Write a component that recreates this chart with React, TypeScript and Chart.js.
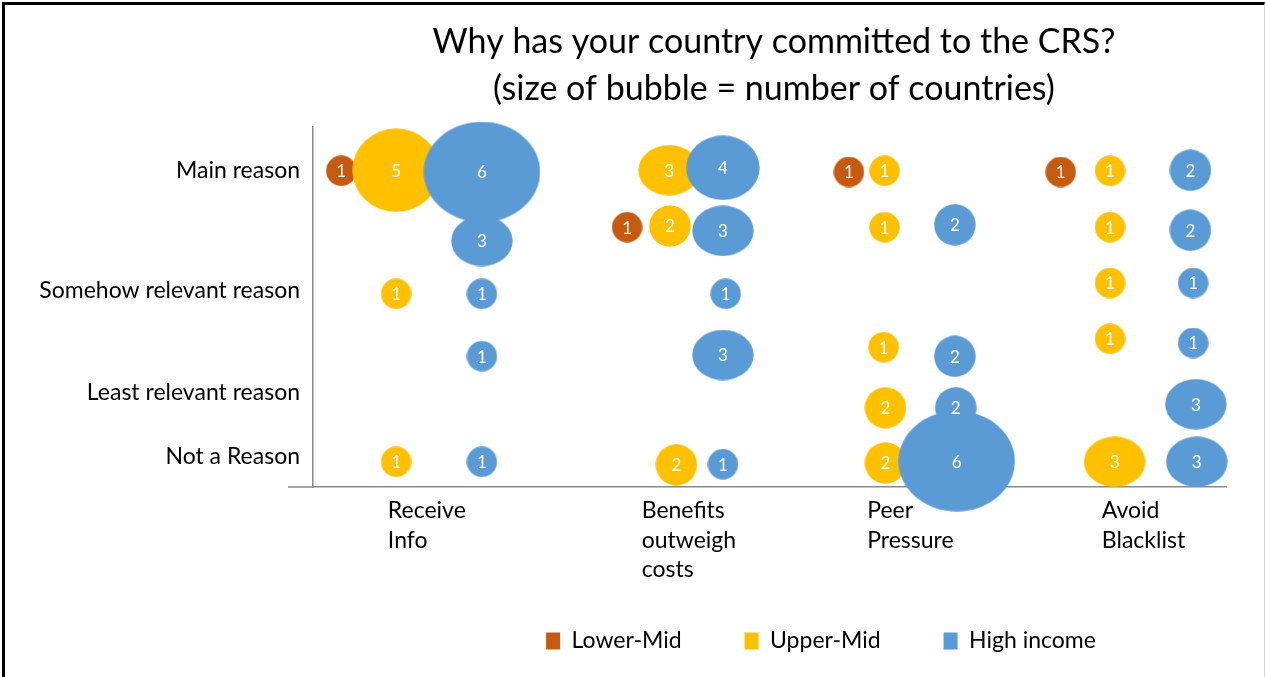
import React, { useEffect, useRef } from "react";
import { Chart, registerables } from "chart.js";

Chart.register(...registerables);

// ---------- data ----------
const seriesNames = ["Lower-Mid", "Upper-Mid", "High income"];

const xCategoryLabels = [
  ["Receive", "Info"],
  ["Benefits", "outweigh", "costs"],
  ["Peer", "Pressure"],
  ["Avoid", "Blacklist"],
];
const xCategoryPositions = [0.82, 3.6, 6.07, 8.64];

const yReasonLabels = ["Not a Reason", "Least relevant reason", "Somehow relevant reason", "Main reason"];
const yReasonPositions = [0.5, 1.57, 3.28, 5.27];

// Lower-Mid bubbles
const lowerMidX = [0.31, 3.44, 5.87, 8.19];
const lowerMidY = [5.27, 4.33, 5.25, 5.25];
const lowerMidCount = [1, 1, 1, 1];

// Upper-Mid bubbles
const upperMidX = [0.91, 0.91, 0.91, 3.9, 3.91, 3.98, 6.26, 6.26, 6.25, 6.27, 6.27, 8.73, 8.73, 8.73, 8.73, 8.78];
const upperMidY = [5.28, 3.22, 0.42, 5.28, 4.35, 0.37, 5.27, 4.33, 2.33, 1.32, 0.4, 5.27, 4.33, 3.4, 2.47, 0.42];
const upperMidCount = [5, 1, 1, 3, 2, 2, 1, 1, 1, 2, 2, 1, 1, 1, 1, 3];

// High income bubbles
const highX = [1.85, 1.85, 1.85, 1.85, 1.85, 4.49, 4.49, 4.52, 4.49, 4.49, 7.03, 7.03, 7.04, 7.05, 9.61, 9.61, 9.64, 9.64, 9.67, 9.68];
const highY = [5.25, 4.1, 3.22, 2.18, 0.42, 5.32, 4.27, 3.22, 2.2, 0.38, 4.37, 2.18, 1.32, 0.43, 5.28, 4.28, 3.4, 2.4, 1.38, 0.42];
const highCount = [6, 3, 1, 1, 1, 4, 3, 1, 3, 1, 2, 2, 2, 6, 2, 2, 1, 1, 3, 3];

// ---------- styles ----------
const seriesColors = ["#C55A11", "#FFC000", "#5B9BD5"];
// bubble (ellipse) size in px for each count value
const bubbleWidthByCount = [0, 31, 42, 62, 74, 88, 117];
const bubbleHeightByCount = [0, 31, 42, 51, 65, 84, 101];
const FONT = "Lato, 'Open Sans', sans-serif";
const AXIS_COLOR = "#8a8a8a";
const LEGEND_PADDING = 63;
const LEGEND_FONT = 23;

const toPoints = (xs: number[], ys: number[], counts: number[]) =>
  xs.map((x, i) => ({ x, y: ys[i], v: counts[i] }));

const ellipseCache = new Map<string, HTMLCanvasElement>();
function ellipseImage(color: string, count: number): HTMLCanvasElement {
  const key = color + "|" + count;
  const hit = ellipseCache.get(key);
  if (hit) return hit;
  const w = bubbleWidthByCount[count];
  const h = bubbleHeightByCount[count];
  const c = document.createElement("canvas");
  c.width = w;
  c.height = h;
  const g = c.getContext("2d") as CanvasRenderingContext2D;
  g.fillStyle = color;
  g.beginPath();
  g.ellipse(w / 2, h / 2, w / 2 - 0.3, h / 2 - 0.3, 0, 0, Math.PI * 2);
  g.fill();
  ellipseCache.set(key, c);
  return c;
}

const bubbleLabels = {
  id: "bubbleLabels",
  afterDatasetDraw(chart: any, args: any) {
    const ctx = chart.ctx;
    const ds = chart.data.datasets[args.index];
    ctx.save();
    ctx.fillStyle = "#ffffff";
    ctx.font = `17px ${FONT}`;
    ctx.textAlign = "center";
    ctx.textBaseline = "middle";
    args.meta.data.forEach((el: any, i: number) => {
      ctx.fillText(String(ds.data[i].v), el.x, el.y + 1);
    });
    ctx.restore();
  },
};

const axisStub = {
  id: "axisStub",
  beforeDatasetsDraw(chart: any) {
    const { ctx, chartArea } = chart;
    ctx.save();
    ctx.strokeStyle = AXIS_COLOR;
    ctx.lineWidth = 1.5;
    ctx.beginPath();
    ctx.moveTo(chartArea.left - 25, chartArea.bottom);
    ctx.lineTo(chartArea.left, chartArea.bottom);
    ctx.stroke();
    ctx.restore();
  },
};

const boxShift = {
  id: "boxShift",
  afterLayout(chart: any) {
    const shiftX = (box: any, center: number) => {
      if (!box) return;
      const dx = center - (box.left + box.right) / 2;
      box.left += dx;
      box.right += dx;
    };
    shiftX(chart.legend, 821);
    shiftX(chart.titleBlock, 774);
    const lg = chart.legend;
    if (lg) {
      const top = 641 - LEGEND_PADDING - LEGEND_FONT / 2;
      const h = lg.bottom - lg.top;
      lg.top = top;
      lg.bottom = top + h;
    }
  },
};

export default function App() {
  const ref = useRef<HTMLCanvasElement>(null);

  useEffect(() => {
    const chart = new Chart(ref.current as HTMLCanvasElement, {
      type: "bubble",
      data: {
        datasets: [
          { label: seriesNames[0], data: toPoints(lowerMidX, lowerMidY, lowerMidCount), order: 3 },
          { label: seriesNames[1], data: toPoints(upperMidX, upperMidY, upperMidCount), order: 2 },
          { label: seriesNames[2], data: toPoints(highX, highY, highCount), order: 1 },
        ].map((d, i) => ({
          ...d,
          backgroundColor: seriesColors[i],
          borderWidth: 0,
          clip: false as any,
          radius: (c: any) => bubbleWidthByCount[(c.raw && c.raw.v) || 1] / 2,
          pointStyle: (c: any) => ellipseImage(seriesColors[i], (c.raw && c.raw.v) || 1),
        })) as any,
      },
      options: {
        responsive: false,
        animation: false,
        devicePixelRatio: 1,
        layout: { autoPadding: false, padding: { top: 10, left: 20, right: 39, bottom: 0 } },
        plugins: {
          tooltip: { enabled: false },
          title: {
            display: true,
            text: ["Why has your country committed to the CRS?", "(size of bubble = number of countries)"],
            color: "#000",
            font: { family: FONT, size: 34, weight: "normal", lineHeight: 47 / 34 },
            padding: { top: 9, bottom: 14 },
          },
          legend: {
            position: "bottom",
            labels: {
              color: "#000",
              font: { family: FONT, size: LEGEND_FONT },
              boxWidth: 14,
              boxHeight: 17,
              padding: LEGEND_PADDING,
              sort: (a: any, b: any) => a.datasetIndex - b.datasetIndex,
            },
          },
        },
        scales: {
          x: {
            type: "linear",
            min: 0,
            max: 10,
            grid: { display: false, drawTicks: false },
            border: { display: true, color: AXIS_COLOR, width: 1.5 },
            afterBuildTicks: (s: any) => {
              s.ticks = xCategoryPositions.map((v) => ({ value: v }));
            },
            afterFit: (s: any) => {
              s.height = 94;
            },
            ticks: {
              autoSkip: false,
              maxRotation: 0,
              align: "start",
              padding: 9,
              color: "#000",
              font: { family: FONT, size: 23, lineHeight: 29.5 / 23 },
              callback: (_v: any, i: number) => xCategoryLabels[i],
            },
          },
          y: {
            type: "linear",
            min: 0,
            max: 6,
            grid: { display: false, drawTicks: false },
            border: { display: true, color: AXIS_COLOR, width: 1.5 },
            afterBuildTicks: (s: any) => {
              s.ticks = yReasonPositions.map((v) => ({ value: v }));
            },
            afterFit: (s: any) => {
              s.width = 293;
            },
            ticks: {
              autoSkip: false,
              padding: 13,
              color: "#000",
              font: { family: FONT, size: 23 },
              callback: (_v: any, i: number) => yReasonLabels[i],
            },
          },
        },
      } as any,
      plugins: [bubbleLabels, axisStub, boxShift],
    });
    return () => chart.destroy();
  }, []);

  return (
    <div
      style={{
        position: "absolute",
        left: 0,
        top: 0,
        width: 1265,
        height: 677,
        background: "#fff",
        overflow: "hidden",
      }}
    >
      <canvas ref={ref} width={1265} height={677} style={{ display: "block" }} />
      <div
        style={{
          position: "absolute",
          left: 2,
          top: 2,
          width: 1263,
          height: 720,
          borderLeft: "3px solid #000",
          borderTop: "3px solid #000",
          borderRight: "1px solid #d4d4d4",
          boxSizing: "border-box",
          pointerEvents: "none",
        }}
      />
    </div>
  );
}
